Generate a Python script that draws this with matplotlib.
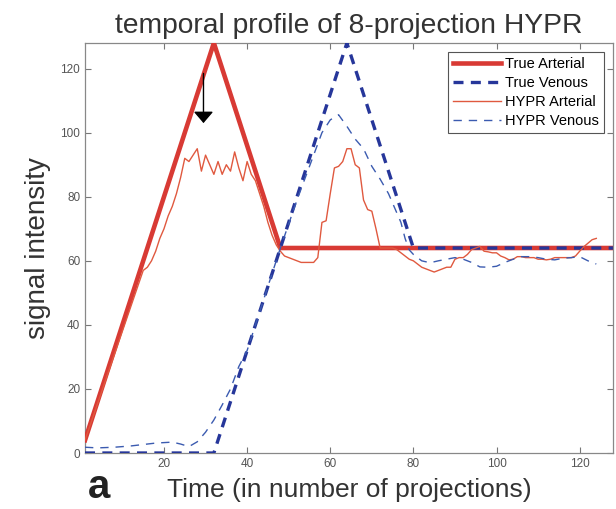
import matplotlib
matplotlib.use('Agg')
import matplotlib.pyplot as plt

plt.rcParams['font.family'] = ['Liberation Sans', 'DejaVu Sans']

# true curves (breakpoints)
true_art_t = [1, 32, 48, 128]
true_art = [4, 128, 64, 64]
true_ven_t = [1, 32, 64, 80, 128]
true_ven = [0, 0, 128, 64, 64]

# HYPR arterial
hypr_art_t = [1, 15, 16, 17, 18, 19, 20, 21, 22, 23, 24, 25, 26, 27, 28, 29, 30,
              31, 32, 33, 34, 35, 36, 37, 38, 39, 40, 41, 42, 43, 44, 45, 46, 47,
              48, 49, 50, 51, 52, 53, 54, 55, 56, 57, 58, 59, 60, 61, 62, 63, 64,
              65, 66, 67, 68, 69, 70, 71, 72, 73, 74, 75, 76, 77, 78, 79, 80, 81,
              82, 83, 84, 85, 86, 87, 88, 89, 90, 91, 92, 93, 94, 95, 96, 97, 98,
              99, 100, 101, 102, 103, 104, 105, 106, 107, 108, 109, 110, 111, 112,
              113, 114, 115, 116, 117, 118, 119, 120, 121, 122, 123, 124]
hypr_art = [4, 57, 58, 60, 63, 67, 70, 74, 77, 81, 86, 92, 91, 93, 95, 88, 93,
            90, 87, 91, 87, 90, 88, 94, 89, 85, 91, 87, 85, 81, 77, 72, 68, 65,
            63, 61.5, 61, 60.5, 60, 59.5, 59.5, 59.5, 59.5, 61, 72, 72.5, 81, 89, 89.5, 91, 95,
            95, 90, 89, 79, 76, 75.5, 70, 64, 64, 64, 64, 63.5, 62.5, 61.5, 60.5, 60, 59,
            58, 57.5, 57, 56.5, 57, 57.5, 58, 58, 60.5, 61, 61, 62, 63.5, 64, 64.5, 63, 62.8,
            62.5, 62.5, 61.5, 61, 60.3, 60.5, 61.3, 61.3, 61, 61, 61, 60.5, 60.5, 60.3,
            60.5, 61, 61, 61, 61, 61, 61.5, 63, 64.4, 65.5, 66.6, 67]

# HYPR venous
hypr_ven_t = [1, 4, 8, 12, 16, 18, 22, 24, 26, 28, 30, 32, 34, 36, 38, 40, 44,
              48, 52, 56, 58, 60, 62, 64, 66, 68, 70, 72, 74, 76, 77, 78, 79, 80,
              82, 84, 86, 88, 90, 92, 94, 96, 98, 100, 102, 104, 106, 108, 110,
              112, 114, 116, 118, 120, 122, 124]
hypr_ven = [1.8, 1.6, 1.8, 2.2, 2.8, 3.1, 3.4, 2.8, 2, 3.5, 6.5, 10.3, 15, 20, 27, 32, 48,
            64, 79, 93, 100, 104, 105.6, 102, 98, 95, 89.5, 85.5, 81, 75, 72, 67, 63.4, 62,
            60, 59.4, 60, 60.5, 61, 60.5, 59.5, 58.1, 58, 58.3, 59.5, 60.5, 61.3, 61.3, 61,
            60.5, 60.3, 60.8, 61, 61.3, 60, 59]

RED = '#d83a34'
BLUE = '#26369a'
RED_THIN = '#e0593f'
BLUE_THIN = '#3b5bb0'

fig = plt.figure(figsize=(6.16, 5.09), dpi=100)
ax = fig.add_axes([0.138, 0.110, 0.857, 0.8055])

ax.plot(true_art_t, true_art, '-', color=RED, lw=3.3, label='True Arterial', zorder=3)
ax.plot(true_ven_t, true_ven, '--', color=BLUE, lw=2.4, dashes=(3, 2.2), label='True Venous', zorder=4)
ax.plot(hypr_art_t, hypr_art, '-', color=RED_THIN, lw=1.0, label='HYPR Arterial', zorder=5)
ax.plot(hypr_ven_t, hypr_ven, '--', color=BLUE_THIN, lw=1.0, dashes=(6, 5), label='HYPR Venous', zorder=5)

ax.annotate('', xy=(29.5, 103), xytext=(29.5, 118.5),
            arrowprops=dict(arrowstyle='-|>,head_width=0.3,head_length=0.35',
                            color='black', lw=1, mutation_scale=20, shrinkA=0, shrinkB=0))

ax.set_xlim(1, 128)
ax.set_ylim(0, 128)
ax.set_xticks([20, 40, 60, 80, 100, 120])
ax.set_yticks([0, 20, 40, 60, 80, 100, 120])
ax.tick_params(direction='in', top=True, right=True, labelsize=8.5,
               labelcolor='#555555', color='#777777', length=4, width=0.8)
for s in ax.spines.values():
    s.set_color('#888888')
    s.set_linewidth(0.9)

ax.set_title('temporal profile of 8-projection HYPR', fontsize=20.3, color='#333333', pad=7)
ax.set_xlabel('Time (in number of projections)', fontsize=19, color='#333333', labelpad=6)
ax.set_ylabel('signal intensity', fontsize=20, color='#333333', labelpad=7)

leg = ax.legend(loc='upper right', fontsize=10.5, handlelength=3.3, fancybox=False,
                edgecolor='#555555', framealpha=1, borderaxespad=0.6,
                labelspacing=0.34, borderpad=0.35, handletextpad=0.3)
leg.get_frame().set_linewidth(0.8)

fig.text(0.142, 0.022, 'a', fontsize=29, fontweight='bold', color='#222222')

fig.savefig('out.png', dpi=100)
